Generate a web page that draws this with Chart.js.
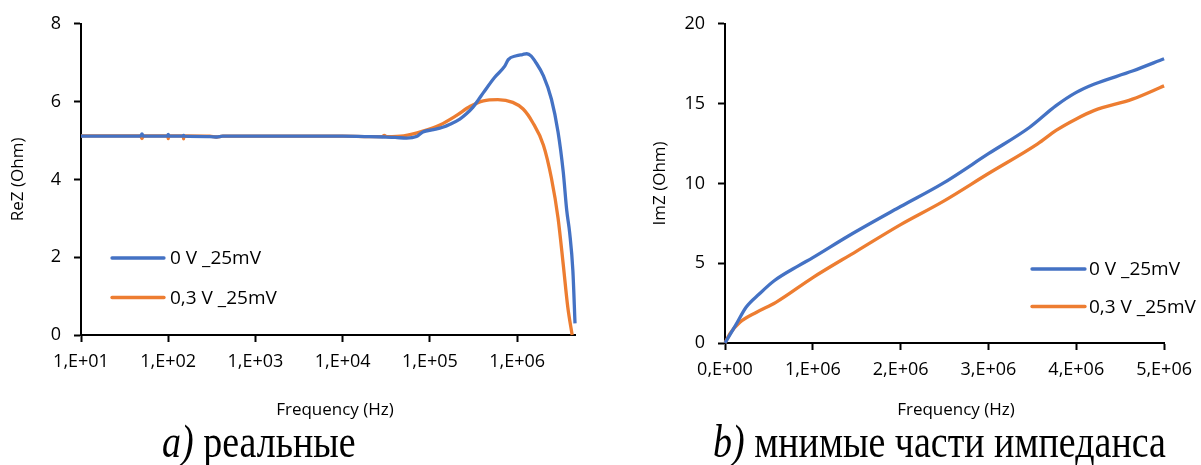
<!DOCTYPE html>
<html><head><meta charset="utf-8">
<script src="https://cdn.jsdelivr.net/npm/chart.js@4.4.1/dist/chart.umd.min.js"></script>
<style>
html,body{margin:0;padding:0;background:#fff;width:1201px;height:465px;overflow:hidden;}
.wrap{position:absolute;top:0;height:425px;}
#wrapA{left:0;width:600px;}
#wrapB{left:600px;width:601px;}
.cap{position:absolute;top:426px;height:38px;font-family:"Liberation Serif","Times New Roman",serif;font-size:38px;line-height:1;white-space:nowrap;transform:scaleY(1.21);transform-origin:left bottom;color:#000;}
.cap i{font-style:italic;}
</style></head><body>
<div class="wrap" id="wrapA"><canvas id="cA" width="600" height="425"></canvas></div>
<div class="wrap" id="wrapB"><canvas id="cB" width="601" height="425"></canvas></div>
<div class="cap" id="capA" style="left:162px;"></div>
<div class="cap" id="capB" style="left:713px;"></div>
<script>
// ---- data ----
const seriesNames = ['0 V _25mV', '0,3 V _25mV'];
const xTitle = 'Frequency (Hz)';
const yTitleRe = 'ReZ (Ohm)';
const yTitleIm = 'ImZ (Ohm)';
const captionA = ['a)', ' реальные'];
const captionB = ['b)', ' мнимые части импеданса'];

const logTickValues = [1e1, 1e2, 1e3, 1e4, 1e5, 1e6];
const logTickLabels = ['1,E+01', '1,E+02', '1,E+03', '1,E+04', '1,E+05', '1,E+06'];
const linTickValues = [0, 1e6, 2e6, 3e6, 4e6, 5e6];
const linTickLabels = ['0,E+00', '1,E+06', '2,E+06', '3,E+06', '4,E+06', '5,E+06'];

// ReZ, 0 V
const reFreq0 = [10, 30, 48, 50, 52, 90, 98, 100, 102, 140, 148, 150, 152, 300, 360, 420, 1000, 3000, 1e4, 2e4, 3e4, 4e4, 5.4e4, 7e4, 8.3e4, 1.1e5, 1.4e5, 1.7e5, 2.2e5, 2.6e5, 3.1e5, 3.6e5, 4.1e5, 5.5e5, 7.2e5, 7.9e5, 9.8e5, 1.15e6, 1.29e6, 1.45e6, 1.6e6, 2.0e6, 2.47e6, 2.94e6, 3.37e6, 3.7e6, 4.0e6, 4.35e6, 4.6e6];
const reZ0 = [5.11, 5.11, 5.11, 5.17, 5.11, 5.11, 5.11, 5.16, 5.11, 5.11, 5.11, 5.13, 5.11, 5.10, 5.09, 5.11, 5.11, 5.11, 5.11, 5.10, 5.09, 5.08, 5.06, 5.10, 5.22, 5.28, 5.34, 5.42, 5.55, 5.68, 5.85, 6.05, 6.23, 6.62, 6.91, 7.08, 7.18, 7.21, 7.23, 7.17, 7.04, 6.66, 6.06, 5.22, 4.20, 3.20, 2.62, 1.65, 0.30];
// ReZ, 0,3 V
const reFreq03 = [10, 30, 48, 50, 52, 90, 98, 100, 102, 140, 148, 150, 152, 300, 360, 420, 1000, 3000, 1e4, 2e4, 2.8e4, 3e4, 3.2e4, 5e4, 8.3e4, 1.3e5, 2.0e5, 2.9e5, 4.1e5, 6.0e5, 8.9e5, 1.17e6, 1.5e6, 2.0e6, 2.47e6, 2.94e6, 3.37e6, 3.8e6, 4.27e6];
const reZ03 = [5.12, 5.12, 5.12, 5.05, 5.12, 5.12, 5.12, 5.05, 5.12, 5.12, 5.12, 5.04, 5.12, 5.11, 5.09, 5.11, 5.11, 5.11, 5.11, 5.10, 5.10, 5.13, 5.10, 5.12, 5.24, 5.40, 5.64, 5.88, 6.02, 6.05, 5.98, 5.81, 5.47, 4.88, 4.03, 3.01, 1.82, 0.72, 0];

// ImZ, 0 V
const imFreq0 = [0, 0.13e6, 0.24e6, 0.39e6, 0.56e6, 0.84e6, 1.0e6, 1.4e6, 2.0e6, 2.48e6, 3.0e6, 3.47e6, 3.77e6, 4.0e6, 4.2e6, 4.64e6, 5.0e6];
const imZ0 = [0, 1.2, 2.24, 3.07, 3.9, 4.85, 5.35, 6.69, 8.55, 10.0, 11.86, 13.52, 14.87, 15.70, 16.21, 17.04, 17.81];
// ImZ, 0,3 V
const imFreq03 = [0, 0.056e6, 0.17e6, 0.36e6, 0.58e6, 1.0e6, 1.5e6, 2.0e6, 2.48e6, 3.0e6, 3.56e6, 3.77e6, 4.0e6, 4.2e6, 4.64e6, 5.0e6];
const imZ03 = [0, 0.58, 1.3, 1.93, 2.55, 4.1, 5.76, 7.42, 8.86, 10.62, 12.48, 13.32, 14.04, 14.56, 15.28, 16.11];

// ---- rendering ----
const BLUE = '#4472C4', ORANGE = '#ED7D31';
Chart.defaults.font.family = '"Open Sans", sans-serif';
Chart.defaults.color = '#000';

function pts(xs, ys) { return xs.map((x, i) => ({ x: x, y: ys[i] })); }

document.getElementById('capA').innerHTML = '<i>' + captionA[0] + '</i>' + captionA[1];
document.getElementById('capB').innerHTML = '<i>' + captionB[0] + '</i>' + captionB[1];

const overlay = {
  id: 'overlay',
  afterDraw(chart, args, o) {
    const ctx = chart.ctx;
    ctx.save();
    chart.data.datasets.forEach((ds, i) => {
      const y = o.legendY[i];
      ctx.strokeStyle = ds.borderColor;
      ctx.lineWidth = 3.3;
      ctx.lineCap = 'round';
      ctx.beginPath(); ctx.moveTo(o.legendX1, y); ctx.lineTo(o.legendX2, y); ctx.stroke();
      ctx.fillStyle = '#000';
      ctx.font = '19px "Open Sans"';
      ctx.textBaseline = 'middle';
      ctx.textAlign = 'left';
      ctx.fillText(ds.label, o.legendTextX, y + 1);
    });
    ctx.font = '17px "Open Sans"';
    ctx.textAlign = 'center';
    ctx.textBaseline = 'middle';
    ctx.fillText(o.xTitle, o.xTitleX, o.xTitleY);
    ctx.restore();
  }
};

function lineDs(label, color, data) {
  return { label: label, data: data, borderColor: color, backgroundColor: color, borderWidth: 3.3,
           pointRadius: 0, cubicInterpolationMode: 'monotone', fill: false, clip: false };
}

function axisCommon() {
  return {
    grid: { display: true, drawOnChartArea: false, drawTicks: true, tickLength: 7, tickWidth: 2, tickColor: '#000' },
    border: { display: true, color: '#000', width: 2 }
  };
}

function makeChart(id, cfg) {
  const xc = axisCommon(), yc = axisCommon();
  return new Chart(document.getElementById(id), {
    type: 'line',
    data: { datasets: cfg.datasets },
    options: {
      responsive: false, animation: false,
      layout: { padding: { left: 0, right: cfg.padRight, top: 21, bottom: 0 } },
      plugins: { legend: { display: false }, tooltip: { enabled: false }, overlay: cfg.overlay },
      scales: {
        x: Object.assign(xc, cfg.x, {
          afterFit: (s) => { s.height = cfg.xHeight; }
        }),
        y: Object.assign(yc, {
          type: 'linear', min: cfg.yMin, max: cfg.yMax,
          ticks: { stepSize: cfg.yStep, padding: 13, font: { size: 18 } },
          title: { display: true, text: cfg.yTitle, font: { size: 17 }, padding: { top: cfg.yTitlePad, bottom: 0 } },
          afterFit: (s) => { s.width = cfg.yWidth; }
        })
      }
    },
    plugins: [overlay]
  });
}

makeChart('cA', {
  datasets: [lineDs(seriesNames[0], BLUE, pts(reFreq0, reZ0)), lineDs(seriesNames[1], ORANGE, pts(reFreq03, reZ03))],
  padRight: 25, xHeight: 90, yWidth: 81, yMin: 0, yMax: 8, yStep: 2, yTitle: yTitleRe, yTitlePad: 8,
  x: {
    type: 'logarithmic', min: 10, max: 4.6e6,
    afterBuildTicks: (s) => { s.ticks = logTickValues.map(v => ({ value: v })); },
    ticks: { padding: 9, font: { size: 18 }, maxRotation: 0, autoSkip: false,
      callback: (v) => { const i = logTickValues.indexOf(v); return i >= 0 ? logTickLabels[i] : ''; } }
  },
  overlay: { legendX1: 112, legendX2: 164, legendTextX: 170, legendY: [258, 297.5], xTitle: xTitle, xTitleX: 335, xTitleY: 410 }
});

makeChart('cB', {
  datasets: [lineDs(seriesNames[0], BLUE, pts(imFreq0, imZ0)), lineDs(seriesNames[1], ORANGE, pts(imFreq03, imZ03))],
  padRight: 30, xHeight: 82, yWidth: 125, yMin: 0, yMax: 20, yStep: 5, yTitle: yTitleIm, yTitlePad: 50,
  x: {
    type: 'linear', min: 0, max: 5e6,
    afterBuildTicks: (s) => { s.ticks = linTickValues.map(v => ({ value: v })); },
    ticks: { padding: 9, font: { size: 18 }, maxRotation: 0, autoSkip: false,
      callback: (v) => { const i = linTickValues.indexOf(v); return i >= 0 ? linTickLabels[i] : ''; } }
  },
  overlay: { legendX1: 432, legendX2: 485, legendTextX: 489, legendY: [269, 306.5], xTitle: xTitle, xTitleX: 356, xTitleY: 410 }
});
</script>
</body></html>
